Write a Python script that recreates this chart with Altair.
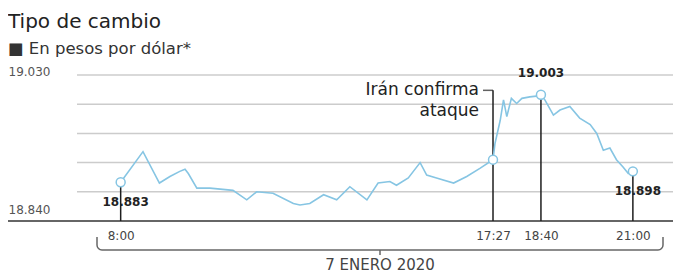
import altair as alt
import pandas as pd

# ---------------- data ----------------
titulo = "Tipo de cambio"
subtitulo = "■ En pesos por dólar*"
fecha = "2020-01-07"
etiqueta_fecha = "7 ENERO 2020"

horas = ["08:00", "08:34", "08:59", "09:15", "09:30", "09:38", "09:43", "09:56", "10:16", "10:51",
         "11:12", "11:27", "11:52", "12:23", "12:33", "12:48", "13:09", "13:29", "13:49", "14:15",
         "14:32", "14:50", "15:00", "15:18", "15:36", "15:46", "16:01", "16:27", "16:47", "17:07",
         "17:27", "17:30", "17:38", "17:43", "17:48", "17:55", "18:03", "18:11", "18:23", "18:33",
         "18:40", "18:46", "18:59", "19:09", "19:24", "19:39", "19:55", "20:05", "20:15", "20:25",
         "20:35", "20:45", "20:53", "21:00"]
valores = [18.883, 18.925, 18.882, 18.891, 18.898, 18.901, 18.895, 18.875, 18.875, 18.872,
           18.859, 18.870, 18.868, 18.854, 18.852, 18.854, 18.866, 18.859, 18.877, 18.859,
           18.882, 18.884, 18.879, 18.889, 18.910, 18.893, 18.889, 18.882, 18.891, 18.902,
           18.914, 18.936, 18.968, 18.996, 18.973, 18.998, 18.991, 18.998, 19.000, 19.001,
           19.003, 18.996, 18.975, 18.982, 18.987, 18.971, 18.962, 18.950, 18.927, 18.930,
           18.914, 18.904, 18.895, 18.898]

marcas_hora = ["08:00", "17:27", "18:40", "21:00"]
marcas_valor = [18.883, 18.914, 19.003, 18.898]
marcas_tope = [18.883, 19.009, 19.003, 18.898]

etiquetas_bajas_hora = ["08:00", "21:00"]
etiquetas_bajas_valor = [18.883, 18.898]
etiquetas_bajas_texto = ["18.883", "18.898"]
etiqueta_alta_hora = ["18:40"]
etiqueta_alta_valor = [19.003]
etiqueta_alta_texto = ["19.003"]

nota_hora = ["17:27"]
nota_valor = [19.009]
nota_linea1 = ["Irán confirma"]
nota_linea2 = ["ataque"]

rejilla = [18.87, 18.91, 18.95, 18.99, 19.03]
eje_y_valores = [18.84, 19.03]
eje_x_horas = [(8, 0), (17, 27), (18, 40), (21, 0)]
y_min, y_max = 18.83, 19.03

# ---------------- tables ----------------
def to_t(hs):
    return pd.to_datetime([fecha + " " + h for h in hs])

df = pd.DataFrame({"t": to_t(horas), "v": valores})
df_m = pd.DataFrame({"t": to_t(marcas_hora), "v": marcas_valor, "tope": marcas_tope})
df_lb = pd.DataFrame({"t": to_t(etiquetas_bajas_hora), "v": etiquetas_bajas_valor, "txt": etiquetas_bajas_texto})
df_la = pd.DataFrame({"t": to_t(etiqueta_alta_hora), "v": etiqueta_alta_valor, "txt": etiqueta_alta_texto})
df_n1 = pd.DataFrame({"t": to_t(nota_hora), "v": nota_valor, "txt": nota_linea1})
df_n2 = pd.DataFrame({"t": to_t(nota_hora), "v": nota_valor, "txt": nota_linea2})
df_g = pd.DataFrame({"v": rejilla})
one = pd.DataFrame({"k": [0]})

# ---------------- styling ----------------
W, H = 596, 146
FONT = "DejaVu Sans"
AZUL = "#86c5e3"
NEGRO = "#1e1e1e"

def dt(h, m, s=0):
    return alt.DateTime(year=2020, month=1, date=7, hours=h, minutes=m, seconds=s)

xscale = alt.Scale(domain=[dt(6, 53, 30), dt(22, 1, 6)])
yscale = alt.Scale(domain=[y_min, y_max], zero=False, nice=False)

xaxis = alt.Axis(values=[dt(h, m) for h, m in eje_x_horas],
                 labelExpr="timeFormat(datum.value, '%-H:%M')",
                 labelFlush=False, labelOverlap=False, ticks=False, domain=False, grid=False,
                 title=None, labelPadding=9, labelFontSize=12, labelColor="#444", labelFont=FONT)
yaxis = alt.Axis(values=eje_y_valores, format=".3f", labelAlign="left", labelBaseline="alphabetic",
                 labelPadding=69, ticks=False, domain=False, grid=False, title=None,
                 labelFlush=False, labelFontSize=12, labelColor="#555", labelFont=FONT)

X = alt.X("t:T", scale=xscale, axis=xaxis)
Y = alt.Y("v:Q", scale=yscale, axis=yaxis)

grid = alt.Chart(df_g).mark_rule(color="#cccccc", strokeWidth=1.5).encode(y=Y)

baseline = alt.Chart(one).mark_rule(color="#333333", strokeWidth=1.5).encode(
    x=alt.value(-69), x2=alt.value(W), y=alt.value(H))

rules = alt.Chart(df_m).mark_rule(color=NEGRO, strokeWidth=1.5).encode(
    x=X, y=alt.Y("tope:Q", scale=yscale, axis=yaxis), y2=alt.datum(y_min))

line = alt.Chart(df).mark_line(color=AZUL, strokeWidth=1.6).encode(x=X, y=Y)

points = alt.Chart(df_m).mark_point(shape="circle", size=80, filled=True, fill="white",
                                    stroke=AZUL, strokeWidth=1.5, opacity=1).encode(x=X, y=Y)

lab_low = alt.Chart(df_lb).mark_text(font=FONT, fontSize=12, fontWeight="bold", color="#222",
                                     dx=5, dy=20, baseline="middle").encode(x=X, y=Y, text="txt:N")
lab_high = alt.Chart(df_la).mark_text(font=FONT, fontSize=12, fontWeight="bold", color="#222",
                                      dy=-22, baseline="middle").encode(x=X, y=Y, text="txt:N")

nota1 = alt.Chart(df_n1).mark_text(font=FONT, fontSize=17, color="#222", align="right",
                                   baseline="middle", dx=-14).encode(x=X, y=Y, text="txt:N")
nota2 = alt.Chart(df_n2).mark_text(font=FONT, fontSize=17, color="#222", align="right",
                                   baseline="middle", dx=-14, dy=21).encode(x=X, y=Y, text="txt:N")
nota_tick = alt.Chart(df_n1).mark_tick(orient="horizontal", size=10, thickness=1.5, color=NEGRO,
                                       xOffset=-5).encode(x=X, y=Y)

# bracket under the time axis
GRIS = "#666666"
br_h = alt.Chart(one).mark_rule(color=GRIS, strokeWidth=1.5).encode(
    x=alt.value(25), x2=alt.value(581), y=alt.value(175))
br_l = alt.Chart(one).mark_rule(color=GRIS, strokeWidth=1.5).encode(
    x=alt.value(20), y=alt.value(162), y2=alt.value(170))
br_r = alt.Chart(one).mark_rule(color=GRIS, strokeWidth=1.5).encode(
    x=alt.value(586), y=alt.value(162), y2=alt.value(170))
br_c = alt.Chart(one).mark_rule(color=GRIS, strokeWidth=1.5).encode(
    x=alt.value(303), y=alt.value(175), y2=alt.value(180))
arc_l = alt.Chart(one).mark_arc(radius=5.75, radius2=4.25, theta=3.14159, theta2=4.71239,
                                color=GRIS).encode(x=alt.value(25), y=alt.value(170))
arc_r = alt.Chart(one).mark_arc(radius=5.75, radius2=4.25, theta=1.5708, theta2=3.14159,
                                color=GRIS).encode(x=alt.value(581), y=alt.value(170))
fecha_txt = alt.Chart(pd.DataFrame({"txt": [etiqueta_fecha]})).mark_text(
    font=FONT, fontSize=15, color="#444", align="center", baseline="middle").encode(
    x=alt.value(303), y=alt.value(190), text="txt:N")

tit = alt.Chart(pd.DataFrame({"txt": [titulo]})).mark_text(
    font=FONT, fontSize=20, color="#222", align="left", baseline="alphabetic").encode(
    x=alt.value(-69), y=alt.value(-47), text="txt:N")
sub = alt.Chart(pd.DataFrame({"txt": [subtitulo]})).mark_text(
    font=FONT, fontSize=16.5, color="#333", align="left", baseline="alphabetic").encode(
    x=alt.value(-69), y=alt.value(-21), text="txt:N")

chart = alt.layer(
    grid, baseline, rules, line, points, lab_low, lab_high, nota1, nota2, nota_tick,
    br_h, br_l, br_r, br_c, arc_l, arc_r, fecha_txt, tit, sub
).properties(
    width=W, height=H,
    autosize=alt.AutoSizeParams(type="none"),
    padding={"left": 69, "top": 67, "right": 0, "bottom": 56},
    background="white",
).configure_view(stroke=None)

chart.save("out.html", embed_options={"renderer": "svg", "actions": False})
